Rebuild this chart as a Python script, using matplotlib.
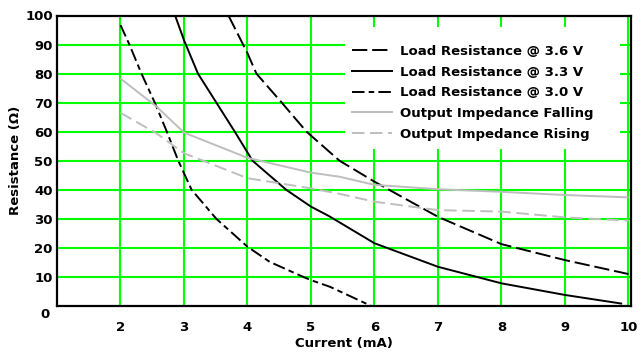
import matplotlib
matplotlib.use("Agg")
import matplotlib.pyplot as plt
import matplotlib.transforms as mtransforms
from matplotlib.patches import Rectangle
from matplotlib.lines import Line2D

# Load resistance curves (current in mA, resistance in ohms)
i_36 = [3.70, 4.00, 4.14, 4.54, 4.93, 5.45, 6.00, 7.00, 8.00, 9.00, 10.00]
r_36 = [100.0, 87.0, 80.0, 70.0, 60.0, 50.0, 42.8, 30.7, 21.3, 15.8, 11.0]

i_33 = [2.86, 3.00, 3.22, 3.51, 3.80, 4.08, 4.61, 5.00, 5.28, 6.00, 7.00, 8.00, 9.00, 9.90]
r_33 = [100.0, 91.5, 80.0, 70.0, 60.0, 50.0, 40.0, 34.2, 31.0, 21.6, 13.5, 7.8, 3.8, 0.8]

i_30 = [2.00, 2.14, 2.33, 2.54, 2.73, 2.91, 3.12, 3.51, 4.00, 4.35, 4.88, 5.00, 5.30, 5.95]
r_30 = [96.7, 90.0, 80.0, 70.0, 60.0, 50.0, 40.0, 30.0, 20.4, 15.2, 10.0, 8.9, 6.6, 0.0]

# Output impedance of the regulator
i_out = [2.00, 2.57, 3.00, 4.00, 5.00, 5.45, 6.00, 7.00, 8.00, 9.00, 10.00]
z_fall = [78.3, 68.6, 59.7, 51.0, 45.9, 44.5, 41.7, 40.2, 39.3, 38.2, 37.4]
z_rise = [66.5, 59.4, 52.6, 44.0, 40.5, 38.6, 35.9, 33.0, 32.5, 30.5, 29.4]

x_ticks = [2, 3, 4, 5, 6, 7, 8, 9, 10]
y_ticks = [0, 10, 20, 30, 40, 50, 60, 70, 80, 90, 100]

labels = [
    "Load Resistance @ 3.6 V",
    "Load Resistance @ 3.3 V",
    "Load Resistance @ 3.0 V",
    "Output Impedance Falling",
    "Output Impedance Rising",
]

plt.rcParams["font.family"] = ["DejaVu Sans"]
plt.rcParams["font.weight"] = "bold"
plt.rcParams["axes.labelweight"] = "bold"
plt.rcParams["lines.scale_dashes"] = False

FS = 9.5
W, H = 643, 354
fig = plt.figure(figsize=(W / 100, H / 100), dpi=100)
ax = fig.add_axes([57 / W, (H - 306) / H, 574 / W, 290.5 / H])

ax.set_xlim(1, 10.04)
ax.set_ylim(0, 100)

green = "#00ff00"
for x in x_ticks:
    ax.axvline(x, color=green, lw=1.5, zorder=1)
for y in y_ticks[1:-1]:
    ax.axhline(y, color=green, lw=1.5, zorder=1)

gray = "#bebebe"
styles = [
    dict(x=i_36, y=r_36, color="black", dashes=(11, 3.5)),
    dict(x=i_33, y=r_33, color="black", dashes=None),
    dict(x=i_30, y=r_30, color="black", dashes=(9, 3, 4, 3)),
    dict(x=i_out, y=z_fall, color=gray, dashes=None),
    dict(x=i_out, y=z_rise, color=gray, dashes=(9, 4)),
]
for s in styles:
    ln, = ax.plot(s["x"], s["y"], color=s["color"], lw=1.4, zorder=3,
                  solid_capstyle="butt")
    if s["dashes"] is not None:
        ln.set_dashes(s["dashes"])

# White legend panel over the grid
def px_to_axes(px, py):
    return ((px - 57) / 574, (306 - py) / 290.5)

x0, y_top = px_to_axes(345, 27)
x1, y_bot = px_to_axes(620, 149)
ax.add_patch(Rectangle((x0, y_bot), x1 - x0, y_top - y_bot,
                       transform=ax.transAxes, facecolor="white",
                       edgecolor="none", zorder=2))

handles = []
for s in styles:
    h = Line2D([], [], color=s["color"], lw=1.4)
    if s["dashes"] is not None:
        h.set_dashes(s["dashes"])
    handles.append(h)

lx, ly = px_to_axes(352, 45)
leg = ax.legend(handles, labels, loc="upper left", bbox_to_anchor=(lx, ly),
                frameon=False, fontsize=FS, handlelength=3.0,
                handletextpad=0.65, labelspacing=0.58, borderaxespad=0,
                borderpad=0)
leg.set_zorder(4)

ax.set_xticks(x_ticks)
ax.set_yticks(y_ticks)
ax.set_xticklabels([str(v) for v in x_ticks])
ax.set_yticklabels([str(v) for v in y_ticks])
ax.tick_params(axis="both", length=0, labelsize=FS)
ax.tick_params(axis="x", pad=11)
ax.tick_params(axis="y", pad=3)

# the zero label sits a little below the axis corner
zero_lbl = ax.get_yticklabels()[0]
zero_lbl.set_transform(zero_lbl.get_transform() +
                       mtransforms.ScaledTranslation(-3 / 100, -7 / 100,
                                                     fig.dpi_scale_trans))

for sp in ax.spines.values():
    sp.set_linewidth(1.6)
    sp.set_color("black")
    sp.set_zorder(5)

ax.set_xlabel("Current (mA)", fontsize=FS, labelpad=2)
ax.set_ylabel("Resistance (\u03a9)", fontsize=FS, labelpad=2)

fig.savefig("out.png", dpi=100)
